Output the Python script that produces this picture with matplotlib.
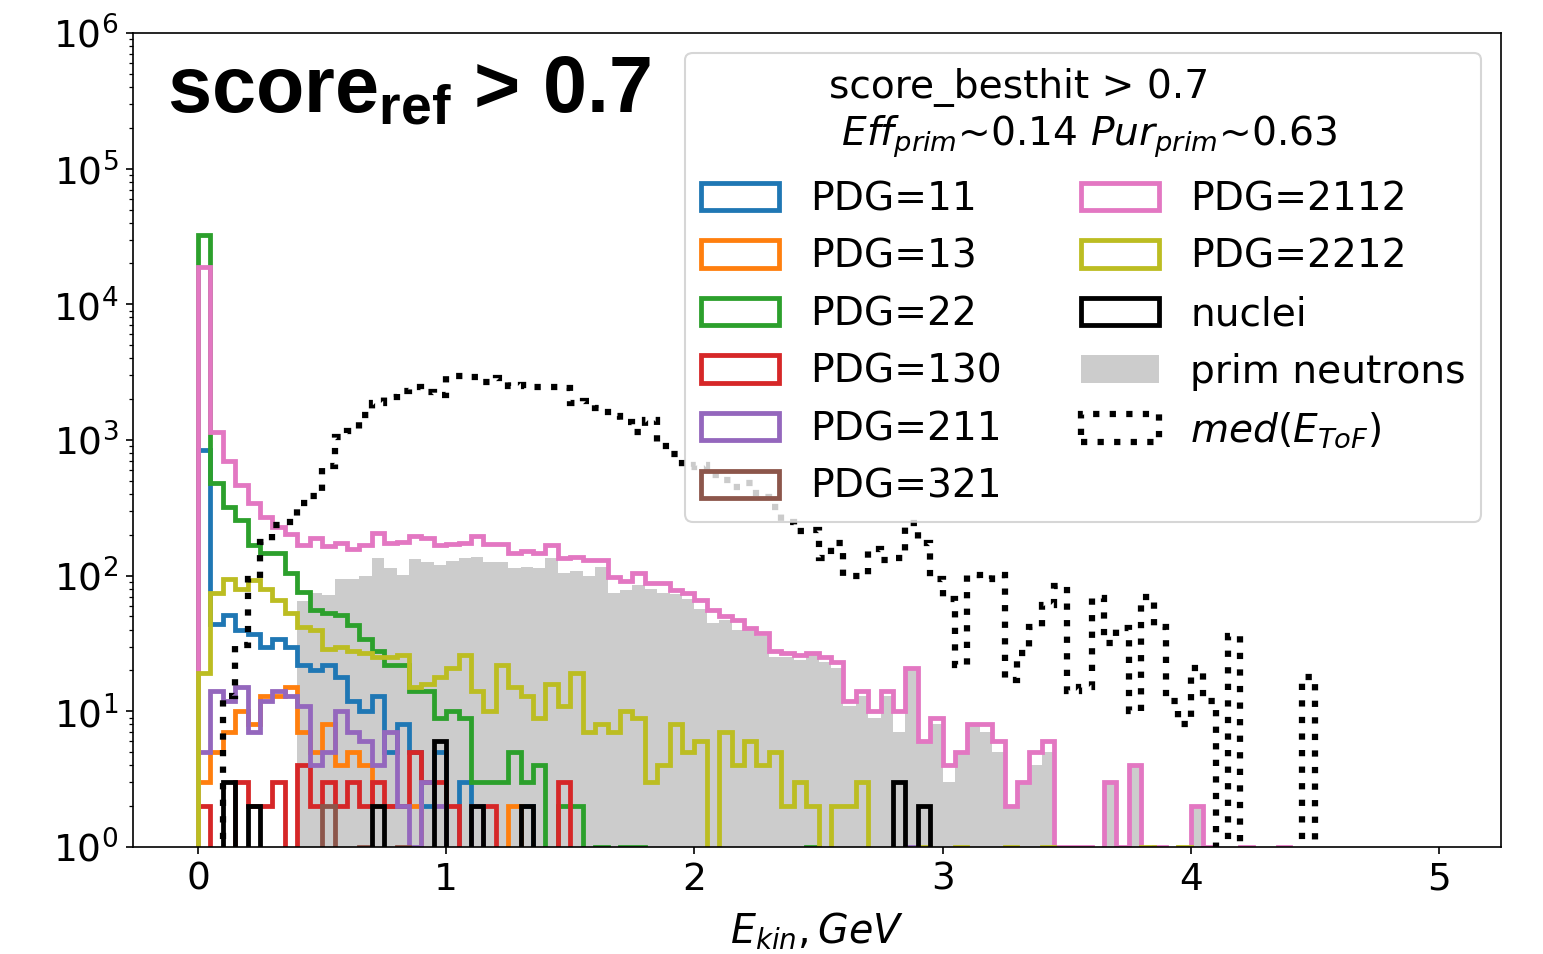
import numpy as np
import matplotlib
matplotlib.use('Agg')
import matplotlib.pyplot as plt

# 100 bins of 0.05 GeV from 0 to 5 GeV; counts per bin
edges = np.linspace(0, 5, 101)

def full(d):
    v = np.zeros(100)
    for k, val in d.items():
        v[k] = val
    return v

pdg11 = full({0: 842, 1: 44, 2: 51, 3: 40, 4: 37, 5: 30, 6: 34, 7: 30, 8: 22, 9: 20,
              10: 22, 11: 18, 12: 12, 13: 10, 14: 13, 15: 5, 16: 8, 17: 5, 18: 2, 19: 5,
              21: 3, 26: 2})
pdg13 = full({0: 3, 1: 5, 2: 7, 3: 10, 4: 8, 5: 13, 6: 13, 7: 15, 8: 7, 9: 5,
              10: 8, 11: 4, 12: 5, 13: 4, 14: 2, 15: 2, 16: 2, 17: 2, 25: 2})
pdg22 = full({0: 32400, 1: 480, 2: 322, 3: 257, 4: 168, 5: 146, 6: 146, 7: 104, 8: 76,
              9: 56, 10: 53, 11: 51, 12: 43, 13: 34, 14: 28, 15: 22, 16: 22, 17: 14,
              18: 14, 19: 9, 20: 10, 21: 9, 22: 3, 23: 3, 24: 3, 25: 5, 26: 3, 27: 4,
              29: 2, 30: 2, 32: 1, 34: 1, 35: 1, 49: 1})
pdg130 = full({0: 2, 3: 3, 4: 2, 5: 2, 6: 3, 8: 4, 9: 2, 10: 3, 11: 2, 12: 3, 13: 2,
               14: 3, 15: 2, 16: 2, 17: 5, 18: 3, 19: 3, 20: 2, 23: 2, 29: 3})
pdg211 = full({0: 5, 1: 14, 2: 12, 3: 15, 4: 7, 5: 12, 6: 14, 7: 13, 8: 11, 9: 4,
               10: 5, 11: 10, 12: 7, 13: 6, 14: 4, 15: 7, 16: 2, 17: 1, 18: 3, 19: 2,
               22: 2, 57: 1})
pdg321 = full({10: 2, 13: 1, 16: 1})
pdg2112 = full({0: 18900, 1: 1150, 2: 703, 3: 465, 4: 344, 5: 269, 6: 229, 7: 204,
                8: 168, 9: 188, 10: 165, 11: 175, 12: 156, 13: 168, 14: 207, 15: 175,
                16: 178, 17: 196, 18: 190, 19: 168, 20: 172, 21: 173, 22: 196, 23: 170,
                24: 170, 25: 146, 26: 151, 27: 146, 28: 168, 29: 134, 30: 138, 31: 130,
                32: 131, 33: 98, 34: 91, 35: 105, 36: 88, 37: 88, 38: 79, 39: 74,
                40: 66, 41: 56, 42: 50, 43: 47, 44: 41, 45: 38, 46: 28, 47: 27, 48: 26,
                49: 27, 50: 25, 51: 23, 52: 12, 53: 14, 54: 10, 55: 14, 56: 10, 57: 21,
                58: 6, 59: 9, 60: 4, 61: 5, 62: 8, 63: 8, 64: 6, 65: 2, 66: 3, 67: 5,
                68: 6, 69: 1, 70: 1, 71: 1, 73: 3, 74: 1, 75: 4, 77: 1, 80: 2, 81: 1,
                84: 1, 87: 1})
pdg2212 = full({0: 19, 1: 74, 2: 95, 3: 80, 4: 93, 5: 80, 6: 66, 7: 53, 8: 42, 9: 40,
                10: 29, 11: 30, 12: 28, 13: 27, 14: 25, 15: 25, 16: 26, 17: 15, 18: 16,
                19: 18, 20: 21, 21: 26, 22: 14, 23: 10, 24: 22, 25: 15, 26: 13, 27: 9,
                28: 16, 29: 11, 30: 19, 31: 7, 32: 8, 33: 7, 34: 10, 35: 9, 36: 3,
                37: 4, 38: 8, 39: 5, 40: 6, 42: 7, 43: 4, 44: 6, 45: 4, 46: 5, 47: 2,
                48: 3, 49: 2, 51: 2, 52: 2, 53: 3, 58: 1, 61: 1, 65: 1, 68: 1, 76: 1,
                79: 1})
nuclei = full({2: 3, 4: 2, 14: 2, 19: 6, 22: 2, 26: 2, 56: 3, 58: 2})
prim_n = full({8: 65, 9: 74, 10: 72, 11: 95, 12: 94, 13: 99, 14: 136, 15: 113, 16: 101,
               17: 132, 18: 125, 19: 120, 20: 128, 21: 134, 22: 137, 23: 125, 24: 125,
               25: 113, 26: 116, 27: 113, 28: 134, 29: 104, 30: 108, 31: 99, 32: 115,
               33: 74, 34: 78, 35: 85, 36: 80, 37: 74, 38: 73, 39: 67, 40: 57, 41: 45,
               42: 47, 43: 40, 44: 40, 45: 36, 46: 25, 47: 25, 48: 24, 49: 26, 50: 23,
               51: 21, 52: 11, 53: 13, 54: 9, 55: 13, 56: 7, 57: 20, 58: 6, 59: 8,
               60: 3, 61: 5, 62: 8, 63: 7, 64: 5, 65: 2, 66: 3, 67: 4, 68: 5, 73: 3,
               75: 4, 80: 2})
med_tof = full({2: 13, 3: 31, 4: 94, 5: 177, 6: 236, 7: 249, 8: 345, 9: 385, 10: 640,
                11: 1060, 12: 1170, 13: 1530, 14: 1880, 15: 2070, 16: 2300, 17: 2440,
                18: 2270, 19: 2150, 20: 2980, 21: 2980, 22: 2920, 23: 2690, 24: 2850,
                25: 2510, 26: 2560, 27: 2440, 28: 2440, 29: 2400, 30: 1860, 31: 1940,
                32: 1710, 33: 1500, 34: 1360, 35: 1150, 36: 1400, 37: 900, 38: 795,
                39: 635, 40: 650, 41: 551, 42: 506, 43: 452, 44: 483, 45: 381, 46: 322,
                47: 249, 48: 214, 49: 218, 50: 134, 51: 173, 52: 99, 53: 99, 54: 156,
                55: 130, 56: 134, 57: 243, 58: 175, 59: 94, 60: 67, 61: 22, 62: 101,
                63: 95, 64: 101, 65: 17, 66: 27, 67: 42, 68: 61, 69: 84, 70: 14, 71: 15,
                72: 69, 73: 32, 74: 41, 75: 10, 76: 70, 77: 42, 78: 12, 79: 8, 80: 21,
                81: 12, 83: 36, 89: 18})

series = [(pdg11, 'PDG=11', 'tab:blue'),
          (pdg13, 'PDG=13', 'tab:orange'),
          (pdg22, 'PDG=22', 'tab:green'),
          (pdg130, 'PDG=130', 'tab:red'),
          (pdg211, 'PDG=211', 'tab:purple'),
          (pdg321, 'PDG=321', 'tab:brown'),
          (pdg2112, 'PDG=2112', 'tab:pink'),
          (pdg2212, 'PDG=2212', 'tab:olive'),
          (nuclei, 'nuclei', 'black')]

centers = 0.5 * (edges[:-1] + edges[1:])
fs_tick = 18
fs_leg = 18.8

fig = plt.figure(figsize=(1543 / 150, 954 / 150), dpi=150)
ax = fig.add_axes([0.0862, 0.1122, 0.8866, 0.8532])
ax.set_yscale('log')

for vals, lab, col in series:
    ax.hist(centers, bins=edges, weights=vals, histtype='step', color=col,
            lw=2.3, label=lab)

ax.hist(centers, bins=edges, weights=prim_n, histtype='bar', color='k',
        alpha=0.2, label='prim neutrons', zorder=0.9)
ax.hist(centers, bins=edges, weights=med_tof, histtype='step', color='k',
        ls=':', lw=3, label=r'$med(E_{ToF})$', zorder=3)

ax.set_xlim(-0.262, 5.25)
ax.set_ylim(1, 1e6)
ax.tick_params(labelsize=fs_tick)
ax.set_xlabel(r'$E_{kin}, GeV$', fontsize=19, labelpad=6.5)

ax.text(0.025, 0.902, r'score$_{\mathdefault{ref}}$ > 0.7', transform=ax.transAxes,
        family='Liberation Sans', weight='bold', fontsize=38, va='baseline')

ax.legend(ncol=2, loc='upper right', fontsize=fs_leg, title_fontsize=fs_leg,
          title='score_besthit > 0.7\n $Eff_{prim}$~0.14 $Pur_{prim}$~0.63')

fig.savefig('out.png', dpi=150)
